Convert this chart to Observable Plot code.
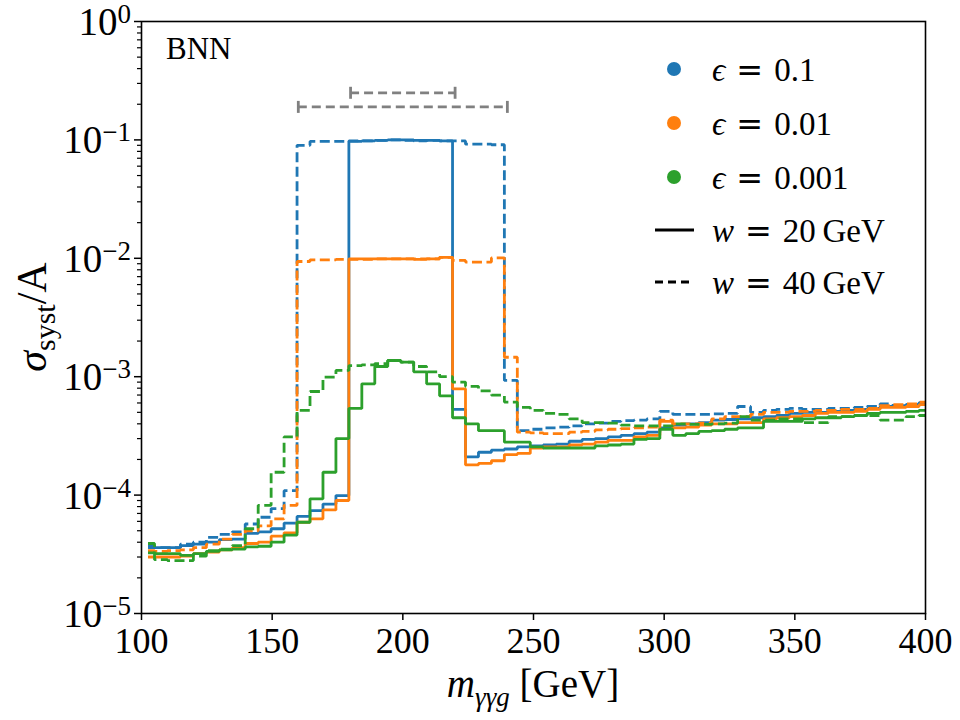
<!DOCTYPE html>
<html>
<head>
<meta charset="utf-8">
<script src="https://cdn.jsdelivr.net/npm/d3@7"></script>
<script src="https://cdn.jsdelivr.net/npm/@observablehq/plot@0.6"></script>
<style>
  html, body { margin: 0; padding: 0; background: #fff; }
  svg text { font-family: "Liberation Serif", serif; }
</style>
</head>
<body>
<div id="chart"></div>
<script>
// Bin centres of the m_γγg histogram [GeV]
const mass = [
  102.50, 107.46, 112.42, 117.38, 122.33, 127.29, 132.25, 137.21, 142.17, 147.13,
  152.08, 157.04, 162.00, 166.96, 171.92, 176.88, 181.83, 186.79, 191.75, 196.71,
  201.67, 206.63, 211.58, 216.54, 221.50, 226.46, 231.42, 236.38, 241.33, 246.29,
  251.25, 256.21, 261.17, 266.13, 271.08, 276.04, 281.00, 285.96, 290.92, 295.88,
  300.83, 305.79, 310.75, 315.71, 320.67, 325.63, 330.58, 335.54, 340.50, 345.46,
  350.42, 355.38, 360.33, 365.29, 370.25, 375.21, 380.17, 385.13, 390.08, 395.04,
  400.00
];

// σ_syst / A, window width w = 20 GeV
const eps01_w20 = [
  3.6e-5, 3.6e-5, 3.6e-5, 3.75e-5, 3.85e-5, 4.0e-5, 4.2e-5, 4.25e-5, 4.75e-5, 4.9e-5,
  5.2e-5, 5.8e-5, 6.6e-5, 7.4e-5, 8.4e-5, 9.9e-5, 0.097, 0.098, 0.099, 0.100,
  0.100, 0.099, 0.099, 0.098, 5.3e-4, 2.1e-4, 2.3e-4, 2.4e-4, 2.45e-4, 2.55e-4,
  2.6e-4, 2.65e-4, 2.7e-4, 2.85e-4, 2.95e-4, 3.0e-4, 3.1e-4, 3.2e-4, 3.3e-4, 3.4e-4,
  3.7e-4, 3.9e-4, 4.0e-4, 4.1e-4, 4.3e-4, 4.35e-4, 4.4e-4, 4.5e-4, 4.6e-4, 4.7e-4,
  4.9e-4, 5.0e-4, 5.0e-4, 5.1e-4, 5.2e-4, 5.3e-4, 5.4e-4, 5.6e-4, 5.7e-4, 5.8e-4,
  6.0e-4
];
const eps001_w20 = [
  3.0e-5, 3.0e-5, 3.0e-5, 3.05e-5, 3.2e-5, 3.3e-5, 3.45e-5, 3.6e-5, 3.9e-5, 4.0e-5,
  4.5e-5, 4.8e-5, 5.9e-5, 6.3e-5, 7.5e-5, 9.0e-5, 0.0099, 0.0099, 0.0099, 0.0099,
  0.0099, 0.0098, 0.0099, 0.0102, 7.9e-4, 1.8e-4, 1.85e-4, 1.95e-4, 2.2e-4, 2.25e-4,
  2.5e-4, 2.55e-4, 2.55e-4, 2.65e-4, 2.7e-4, 2.8e-4, 2.9e-4, 2.9e-4, 3.1e-4, 3.2e-4,
  4.2e-4, 3.7e-4, 3.75e-4, 3.9e-4, 4.0e-4, 4.0e-4, 4.1e-4, 4.1e-4, 4.4e-4, 4.5e-4,
  4.6e-4, 4.7e-4, 4.9e-4, 5.0e-4, 5.0e-4, 5.1e-4, 5.3e-4, 5.5e-4, 5.5e-4, 5.6e-4,
  5.8e-4
];
const eps0001_w20 = [
  3.25e-5, 3.2e-5, 3.2e-5, 3.1e-5, 3.2e-5, 3.35e-5, 3.45e-5, 3.5e-5, 3.65e-5, 3.7e-5,
  4.0e-5, 4.6e-5, 5.9e-5, 9.3e-5, 1.56e-4, 3.0e-4, 5.4e-4, 8.7e-4, 1.22e-3, 1.37e-3,
  1.33e-3, 1.1e-3, 8.7e-4, 6.9e-4, 4.5e-4, 4.0e-4, 3.5e-4, 3.5e-4, 2.8e-4, 2.8e-4,
  2.55e-4, 2.5e-4, 2.5e-4, 2.5e-4, 2.5e-4, 2.6e-4, 2.65e-4, 2.7e-4, 2.95e-4, 3.0e-4,
  3.6e-4, 3.2e-4, 3.3e-4, 3.45e-4, 3.5e-4, 3.6e-4, 3.7e-4, 3.7e-4, 4.2e-4, 4.2e-4,
  4.2e-4, 4.4e-4, 4.5e-4, 4.5e-4, 4.6e-4, 4.7e-4, 4.9e-4, 5.0e-4, 5.0e-4, 5.1e-4,
  5.2e-4
];

// σ_syst / A, window width w = 40 GeV
const eps01_w40 = [
  3.75e-5, 3.6e-5, 3.6e-5, 3.85e-5, 4.0e-5, 4.4e-5, 4.65e-5, 4.9e-5, 5.7e-5, 6.5e-5,
  7.7e-5, 1.09e-4, 0.090, 0.097, 0.097, 0.097, 0.098, 0.098, 0.099, 0.100,
  0.099, 0.098, 0.099, 0.098, 0.098, 0.092, 0.092, 0.091, 9.3e-4, 3.5e-4,
  3.6e-4, 3.7e-4, 3.75e-4, 3.85e-4, 4.0e-4, 4.05e-4, 4.2e-4, 4.25e-4, 4.3e-4, 4.4e-4,
  5.1e-4, 4.8e-4, 4.8e-4, 4.8e-4, 4.85e-4, 4.9e-4, 5.6e-4, 5.0e-4, 5.2e-4, 5.3e-4,
  5.4e-4, 5.3e-4, 5.3e-4, 5.4e-4, 5.4e-4, 5.5e-4, 5.6e-4, 5.9e-4, 5.7e-4, 5.8e-4,
  6.0e-4
];
const eps001_w40 = [
  3.4e-5, 3.35e-5, 3.4e-5, 3.45e-5, 3.6e-5, 3.85e-5, 4.25e-5, 4.65e-5, 5.0e-5, 5.5e-5,
  6.3e-5, 8.2e-5, 0.0094, 0.0097, 0.0097, 0.0098, 0.0098, 0.0098, 0.0099, 0.0099,
  0.0099, 0.0099, 0.0099, 0.0102, 0.0096, 0.0093, 0.0093, 0.0101, 1.46e-3, 3.4e-4,
  3.35e-4, 3.3e-4, 3.3e-4, 3.4e-4, 3.45e-4, 3.55e-4, 3.6e-4, 3.65e-4, 3.7e-4, 3.75e-4,
  4.3e-4, 4.0e-4, 4.0e-4, 4.05e-4, 4.4e-4, 4.6e-4, 4.6e-4, 4.8e-4, 5.0e-4, 5.0e-4,
  5.1e-4, 5.1e-4, 5.2e-4, 5.2e-4, 5.3e-4, 5.3e-4, 5.4e-4, 5.7e-4, 5.8e-4, 5.9e-4,
  6.1e-4
];
const eps0001_w40 = [
  3.9e-5, 2.85e-5, 2.8e-5, 2.8e-5, 3.05e-5, 3.4e-5, 3.5e-5, 3.75e-5, 5.2e-5, 8.2e-5,
  1.56e-4, 3.1e-4, 5.2e-4, 7.5e-4, 9.9e-4, 1.13e-3, 1.24e-3, 1.26e-3, 1.29e-3, 1.37e-3,
  1.33e-3, 1.22e-3, 1.1e-3, 1.0e-3, 9.0e-4, 8.3e-4, 7.6e-4, 7.0e-4, 6.1e-4, 5.5e-4,
  5.2e-4, 4.9e-4, 4.8e-4, 4.4e-4, 4.1e-4, 4.1e-4, 4.05e-4, 3.9e-4, 3.85e-4, 3.85e-4,
  3.85e-4, 4.0e-4, 3.95e-4, 3.95e-4, 4.0e-4, 4.05e-4, 4.6e-4, 4.3e-4, 4.3e-4, 4.4e-4,
  4.4e-4, 4.1e-4, 4.1e-4, 4.6e-4, 4.6e-4, 4.7e-4, 4.7e-4, 4.3e-4, 4.3e-4, 4.6e-4,
  4.7e-4
];

// Legend / series labels
const epsLabels = ["0.1", "0.01", "0.001"];
const epsColors = ["#1f77b4", "#ff7f0e", "#2ca02c"];
const widthLabels = ["20", "40"];

// Signal windows [GeV] shown as dashed brackets above the curves
const windowLo = [180, 160];
const windowHi = [220, 240];
const windowLevel = [0.25, 0.19];

// Axis ticks
const xTicks = [100, 150, 200, 250, 300, 350, 400];
const yMajor = [1e-5, 1e-4, 1e-3, 1e-2, 1e-1, 1];
const yExp = ["−5", "−4", "−3", "−2", "−1", "0"];
const yMinor = [];
for (let e = -5; e < 0; e++) for (let m = 2; m <= 9; m++) yMinor.push(m * Math.pow(10, e));

// Long-format table for Plot
const seriesList = [
  {eps: "0.1", w: "20", v: eps01_w20},
  {eps: "0.1", w: "40", v: eps01_w40},
  {eps: "0.01", w: "20", v: eps001_w20},
  {eps: "0.01", w: "40", v: eps001_w40},
  {eps: "0.001", w: "20", v: eps0001_w20},
  {eps: "0.001", w: "40", v: eps0001_w40}
];
const rows = seriesList.flatMap(s => s.v.map((v, i) => ({m: mass[i], v, eps: s.eps, w: s.w, key: s.eps + "_" + s.w})));
const windows = windowLo.map((lo, i) => ({lo, hi: windowHi[i], y: windowLevel[i]}));
const windowEnds = windows.flatMap(d => [{x: d.lo, y: d.y}, {x: d.hi, y: d.y}]);

// vertical cap symbol for the window brackets
const capSymbol = {
  draw(ctx, size) {
    const h = Math.sqrt(size / Math.PI);
    ctx.moveTo(0, -h);
    ctx.lineTo(0, h);
  }
};

const marks = [];
for (const s of seriesList) {
  marks.push(Plot.line(rows.filter(r => r.key === s.eps + "_" + s.w), {
    x: "m", y: "v", stroke: "eps", curve: "step",
    strokeWidth: 2.8,
    strokeDasharray: s.w === "40" ? "10,4.5" : null,
    strokeLinejoin: "miter", strokeLinecap: "butt"
  }));
}

const plot = Plot.plot({
  width: 960,
  height: 720,
  marginLeft: 141,
  marginRight: 35,
  marginTop: 21,
  marginBottom: 107,
  style: {fontFamily: "Liberation Serif", fontSize: "36px", color: "black", background: "white", overflow: "visible"},
  x: {domain: [100, 400]},
  y: {type: "log", domain: [1e-5, 1]},
  color: {domain: epsLabels, range: epsColors},
  marks: [
    ...marks,
    Plot.ruleY(windows, {x1: "lo", x2: "hi", y: "y", stroke: "#808080", strokeWidth: 2.8, strokeDasharray: "9,5"}),
    Plot.dot(windowEnds, {x: "x", y: "y", symbol: capSymbol, r: 6, stroke: "#808080", strokeWidth: 2.8, fill: "none"}),
    Plot.axisX({ticks: xTicks, tickSize: 7, tickPadding: 7, tickFormat: d => String(d), label: null, fontSize: 36, strokeWidth: 1.5}),
    Plot.axisY({ticks: yMajor, tickSize: 7, tickFormat: () => "", label: null, strokeWidth: 1.5}),
    Plot.axisY({ticks: yMinor, tickSize: 4, tickFormat: () => "", label: null, strokeWidth: 1.2}),
    Plot.frame({stroke: "black", strokeWidth: 1.6})
  ]
});

document.getElementById("chart").appendChild(plot);

const svg = d3.select(plot);
const ys = plot.scale("y");
const xs = plot.scale("x");

// y tick labels as powers of ten
yMajor.forEach((v, i) => {
  const t = svg.append("text")
    .attr("x", 131).attr("y", ys.apply(v) + 14)
    .attr("text-anchor", "end").attr("font-size", 39).attr("fill", "black");
  t.append("tspan").text("10");
  t.append("tspan").attr("dy", -12).attr("font-size", 27).text(yExp[i]);
});

// x axis title
const xt = svg.append("text")
  .attr("x", (xs.apply(100) + xs.apply(400)) / 2).attr("y", 697)
  .attr("text-anchor", "middle").attr("font-size", 39).attr("fill", "black");
xt.append("tspan").attr("font-style", "italic").text("m");
xt.append("tspan").attr("font-style", "italic").attr("font-size", 27).attr("dy", 9).text("γγg");
xt.append("tspan").attr("dy", -9).text(" [GeV]");

// y axis title
const yt = svg.append("text")
  .attr("transform", `translate(46,${(ys.apply(1e-5) + ys.apply(1)) / 2}) rotate(-90)`)
  .attr("text-anchor", "middle").attr("font-size", 42).attr("fill", "black");
yt.append("tspan").attr("font-style", "italic").text("σ");
yt.append("tspan").attr("font-size", 30).attr("dy", 9).text("syst");
yt.append("tspan").attr("dy", -9).text("/A");

// model tag
svg.append("text").attr("x", 166).attr("y", 59).attr("text-anchor", "start")
  .attr("font-size", 31).attr("fill", "black").text("BNN");

// legend entries: symbol, then "name = value" with a wide math-style equals sign
function legendLabel(g, y, name, value) {
  const t = g.append("text").attr("x", 712).attr("y", y).attr("text-anchor", "start")
    .attr("font-size", 33).attr("fill", "black");
  t.append("tspan").attr("font-style", "italic").text(name);
  t.append("tspan").text("\u2004");
  t.append("tspan").attr("font-family", "DejaVu Sans").attr("font-size", 32).text("=");
  t.append("tspan").text("\u2004" + value);
}
const lg = svg.append("g").attr("text-anchor", "start");
epsLabels.forEach((lab, i) => {
  const cy = 69 + i * 54;
  lg.append("circle").attr("cx", 674).attr("cy", cy).attr("r", 7).attr("fill", epsColors[i]);
  legendLabel(lg, cy + 12, "ϵ", lab);
});
widthLabels.forEach((lab, i) => {
  const cy = 230 + i * 52;
  lg.append("line").attr("x1", 655).attr("x2", 694).attr("y1", cy).attr("y2", cy)
    .attr("stroke", "black").attr("stroke-width", 2.8)
    .attr("stroke-dasharray", i === 1 ? "8,5" : null);
  legendLabel(lg, cy + 12, "w", lab + "\u2009GeV");
});
</script>
</body>
</html>
